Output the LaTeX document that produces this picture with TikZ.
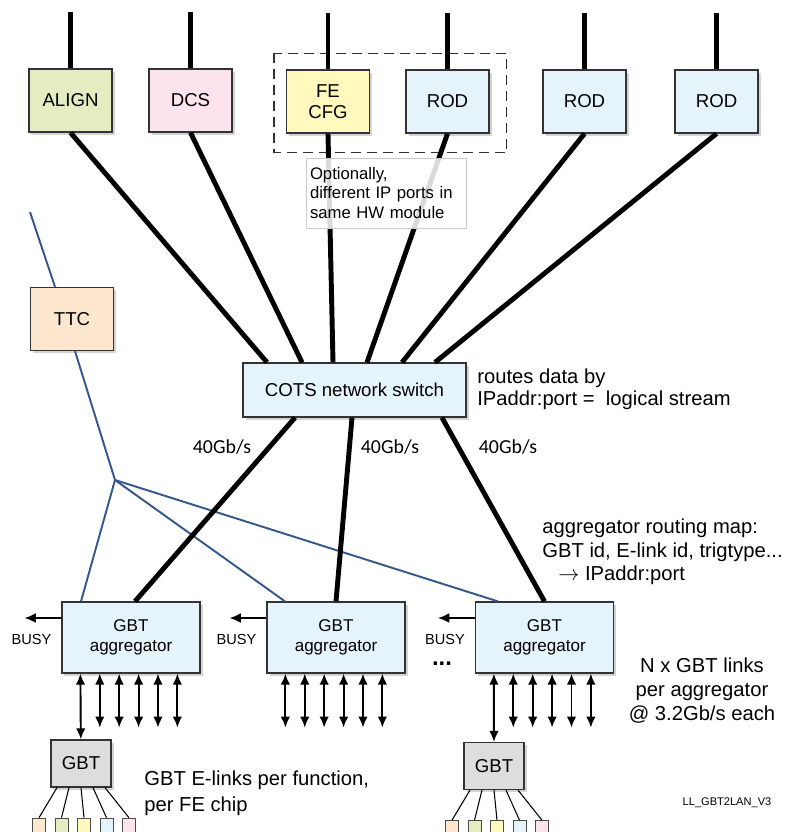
\documentclass[tikz,border=0pt]{standalone}
\usepackage{fontspec}
\setmainfont{Liberation Sans}
\newfontfamily\calibrifont{Carlito}
\usetikzlibrary{arrows.meta,shadows,calc}
\definecolor{alignc}{RGB}{228,237,194}
\definecolor{dcsc}{RGB}{252,227,238}
\definecolor{fec}{RGB}{255,249,190}
\definecolor{rodc}{RGB}{229,243,251}
\definecolor{ttcc}{RGB}{253,232,207}
\definecolor{gbtc}{RGB}{221,221,221}
\definecolor{ttcblue}{RGB}{52,88,140}
\tikzset{box/.style={draw=black!80, line width=0.7pt, fill=#1, minimum width=16.6mm, minimum height=12.6mm, align=center, font=\fontsize{10.6}{12.2}\selectfont, drop shadow={shadow xshift=0.5mm, shadow yshift=-0.5mm, opacity=0.35}}}
\tikzset{box/.default=rodc}
\tikzset{switchbox/.style={box, minimum width=44.6mm, minimum height=10.8mm}}
\tikzset{aggbox/.style={box, minimum width=27.6mm, minimum height=14.2mm, font=\fontsize{9.7}{11.4}\selectfont}}
\tikzset{gbtbox/.style={box=gbtc, minimum width=12mm, minimum height=9.4mm}}
\tikzset{chip/.style={draw=black!70, line width=0.5pt, fill=#1, minimum width=2.6mm, minimum height=2.8mm, inner sep=0pt}}
\tikzset{groupbox/.style={draw=black!80, line width=0.8pt, dash pattern=on 2mm off 1.2mm}}
\tikzset{notebox/.style={draw=black!20, fill=white, fill opacity=0.85, text opacity=1, text width=30.4mm, inner xsep=0.8mm, minimum height=14mm, align=left, font=\fontsize{9.5}{11.3}\selectfont}}
\tikzset{link/.style={line width=2.8pt}}
\tikzset{ttcline/.style={line width=1.1pt, ttcblue}}
\tikzset{gbtlink/.style={{Latex[length=2.2mm,width=1.9mm]}-{Latex[length=2.2mm,width=1.9mm]}, line width=1.1pt}}
\tikzset{busyarrow/.style={-{Latex[length=2.3mm,width=2mm]}, line width=1.2pt}}
\tikzset{elink/.style={line width=0.6pt}}
\tikzset{note/.style={font=\fontsize{11.5}{12.6}\selectfont, inner sep=0pt, align=left}}
\tikzset{rate/.style={font=\calibrifont\fontsize{11.3}{13}\selectfont, inner sep=0pt}}
\begin{document}
\begin{tikzpicture}[x=0.2mm,y=-0.2mm]
%GBT links collected by aggregators and sent over a COTS switch to the LAN end points
\useasboundingbox (0,0) rectangle (785,832);
\node (align) at (70.5,100.5)[box=alignc]{ALIGN};
\node (dcs) at (190.5,100.5)[box=dcsc]{DCS};
\node (fecfg) at (328,101.5)[box=fec]{FE\\CFG};
\node (rod1) at (447.5,101.5)[box]{ROD};
\node (rod2) at (584.5,101.5)[box]{ROD};
\node (rod3) at (716.5,101.5)[box]{ROD};
\node (ttc) at (72,319)[box=ttcc]{TTC};
\node (sw) at (354.5,390)[switchbox]{COTS network switch};
\node (agg1) at (131,637.5)[aggbox]{GBT\\aggregator};
\node (agg2) at (336,637.5)[aggbox]{GBT\\aggregator};
\node (agg3) at (544.5,637.5)[aggbox]{GBT\\aggregator};
\node (gbt1) at (81,763.5)[gbtbox]{GBT};
\node (gbt3) at (494,766)[gbtbox]{GBT};
\coordinate (alignin) at (70.5,12);
\coordinate (dcsin) at (190.5,12);
\coordinate (fein) at (328,13);
\coordinate (rod1in) at (447.5,13);
\coordinate (rod2in) at (584.5,13);
\coordinate (rod3in) at (716.5,13);
\coordinate (ttcin) at (30,212);
\coordinate (fork) at (115,480);
\draw[groupbox] ([shift={(-12,-16)}]fecfg.north west) rectangle ([shift={(17,19)}]rod1.south east);
\draw[link] (alignin)--(align);
\draw[link] (dcsin)--(dcs);
\draw[link] (fein)--(fecfg);
\draw[link] (rod1in)--(rod1);
\draw[link] (rod2in)--(rod2);
\draw[link] (rod3in)--(rod3);
\draw[link] (align.south)--([xshift=-17.5mm]sw.north);
\draw[link] (dcs.south)--([xshift=-10.5mm]sw.north);
\draw[link] (fecfg.south)--([xshift=-4.3mm]sw.north);
\draw[link] (rod1.south)--([xshift=2.5mm]sw.north);
\draw[link] (rod2.south)--([xshift=9.5mm]sw.north);
\draw[link] (rod3.south)--([xshift=16.1mm]sw.north);
\node (optnote) at (386,193)[notebox]{Optionally,\\different IP ports in\\same HW module};
\draw[ttcline] (ttcin)--([xshift=-3.4mm]ttc.north);
\draw[ttcline] ([xshift=0.6mm]ttc.south)--(fork);
\draw[ttcline] (fork)--([xshift=-10mm]agg1.north);
\draw[ttcline] (fork)--([xshift=-10.2mm]agg2.north);
\draw[ttcline] (fork)--([xshift=-9.3mm]agg3.north);
\draw[link] ([xshift=-11.9mm]sw.south)--([xshift=0.8mm]agg1.north);
\draw[link] ([xshift=-0.5mm]sw.south)--(agg2.north);
\draw[link] ([xshift=17.5mm]sw.south)--(agg3.north);
\node (rate1) at (222,447)[rate]{40Gb/s};
\node (rate2) at (390,447)[rate]{40Gb/s};
\node (rate3) at (508,447)[rate]{40Gb/s};
\node (swnote) at (477,389)[note, anchor=west]{routes data by\\IPaddr:port =\ \ logical stream};
\node (mapnote) at (542,552)[note, anchor=west, font=\fontsize{11.5}{13.3}\selectfont]{aggregator routing map:\\GBT id, E-link id, trigtype...\\\hspace*{3.2mm}$\rightarrow$ IPaddr:port};
\foreach \a in {agg1,agg2,agg3}{
  \draw[busyarrow] ([yshift=3.9mm]\a.west)--++(-37,0) coordinate (\a-busy);
  \node (\a-lbl) at ([xshift=-6mm,yshift=-0.3mm]\a.west)[font=\fontsize{8.3}{10}\selectfont]{BUSY};
  \foreach \i in {1,...,5}
    \draw[gbtlink] ([xshift=3.8mm+\i*3.88mm]\a.south west) coordinate (\a-t\i)--++(0,54) coordinate (\a-b\i);
}
\draw[gbtlink] ([xshift=3.8mm]agg1.south west)--(gbt1);
\draw[gbtlink] ([xshift=3.8mm]agg2.south west) coordinate (agg2-t0)--++(0,54) coordinate (agg2-b0);
\draw[gbtlink] ([xshift=3.8mm]agg3.south west)--(gbt3);
\node (dots) at (442,664)[font=\bfseries\fontsize{13.6}{14}\selectfont, inner sep=0pt]{...};
\foreach \g in {gbt1,gbt3}{
  \foreach \col [count=\i] in {ttcc,alignc,fec,rodc,dcsc}{
    \node (\g-c\i) at ([shift={(-64.5+22.5*\i,37.5)}]\g.south)[chip=\col]{};
    \draw[elink] ([xshift=-7.2mm+\i*2.4mm]\g.south)--(\g-c\i.north);
  }
}
\node (nlinks) at (702,690.5)[note, align=center, font=\fontsize{11.5}{13.9}\selectfont]{N x GBT links\\per aggregator\\@ 3.2Gb/s each};
\node (elinks) at (144,793)[note, anchor=west, font=\fontsize{11.5}{14.7}\selectfont]{GBT E-links per function,\\per FE chip};
\node (tag) at (727,803)[font=\fontsize{6.3}{7}\selectfont, inner sep=0pt]{LL\_GBT2LAN\_V3};
\end{tikzpicture}
\end{document}
